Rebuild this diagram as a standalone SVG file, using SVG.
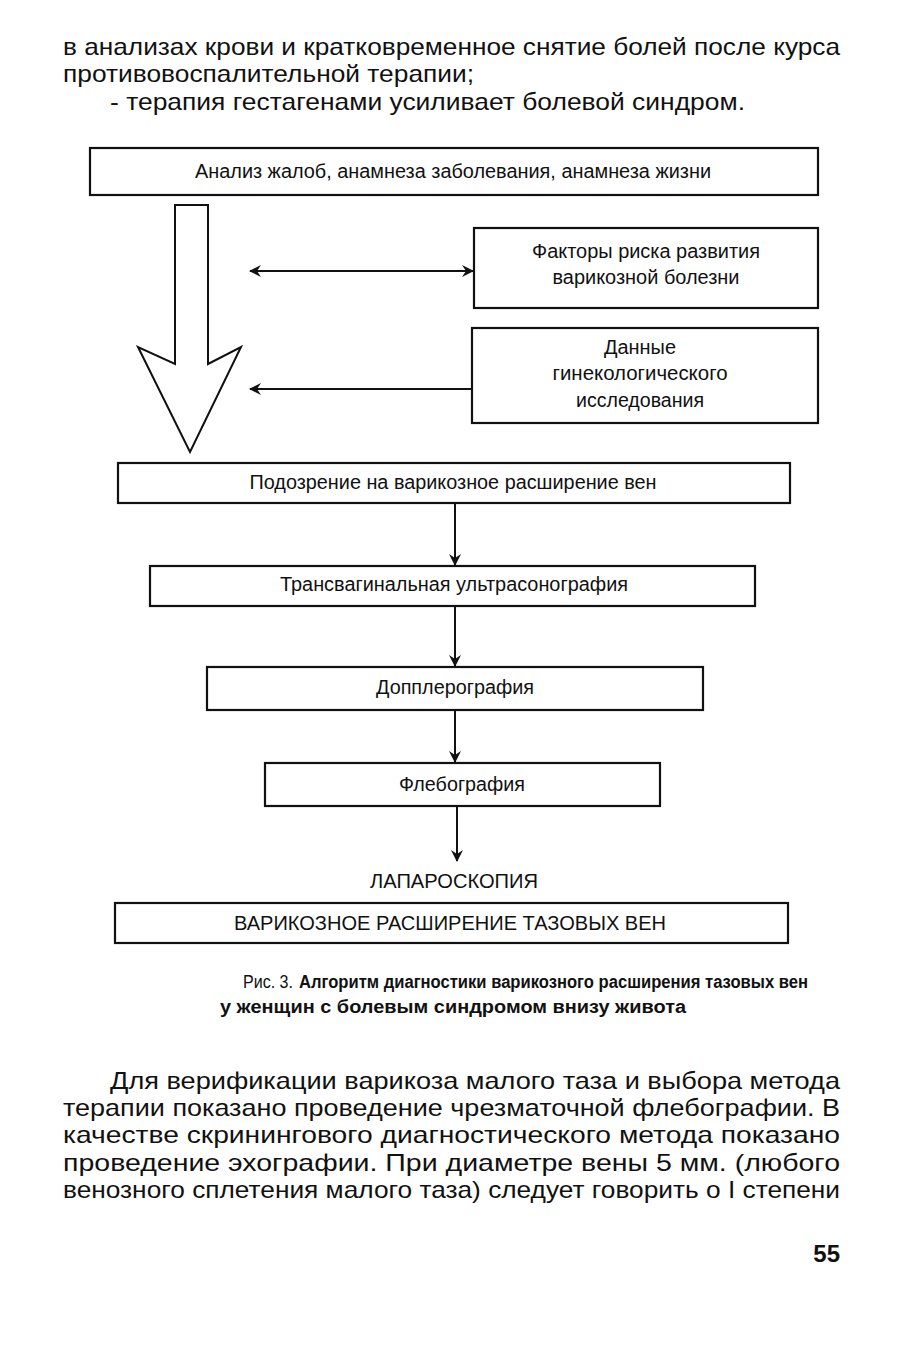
<svg xmlns="http://www.w3.org/2000/svg" width="903" height="1350" viewBox="0 0 903 1350">
<defs>
<style>
.box{fill:#fff;stroke:#111;stroke-width:2.2}
.t{font-family:"Liberation Sans","DejaVu Sans",sans-serif;font-size:20px;fill:#111;text-anchor:middle}
.c{font-family:"Liberation Sans","DejaVu Sans",sans-serif;font-size:18px;fill:#111}
.body{font-family:"Liberation Sans","DejaVu Sans",sans-serif;font-size:24px;fill:#111}
.ln{stroke:#111;stroke-width:2;fill:none}
</style>
<marker id="ah" viewBox="0 0 12 12" refX="11" refY="6" markerWidth="12" markerHeight="12" markerUnits="userSpaceOnUse" orient="auto-start-reverse">
<path d="M0,0 L12,6 L0,12 L4,6 Z" fill="#111"/>
</marker>
</defs>
<rect width="903" height="1350" fill="#fff"/>

<g id="text-top">
<text class="body" x="63" y="55" textLength="777" lengthAdjust="spacingAndGlyphs">в анализах крови и кратковременное снятие болей после курса</text>
<text class="body" x="63" y="82" textLength="411" lengthAdjust="spacingAndGlyphs">противовоспалительной терапии;</text>
<text class="body" x="110" y="110" textLength="635" lengthAdjust="spacingAndGlyphs">- терапия гестагенами усиливает болевой синдром.</text>
</g>

<g id="n-anamnesis">
<rect class="box" x="90" y="148" width="728" height="47"/>
<text class="t" x="453" y="178" textLength="516" lengthAdjust="spacingAndGlyphs">Анализ жалоб, анамнеза заболевания, анамнеза жизни</text>
</g>

<g id="n-factors">
<rect class="box" x="474" y="228" width="344" height="80"/>
<text class="t" x="646" y="258" textLength="228" lengthAdjust="spacingAndGlyphs">Факторы риска развития</text>
<text class="t" x="646" y="284" textLength="187" lengthAdjust="spacingAndGlyphs">варикозной болезни</text>
</g>

<g id="n-gyn">
<rect class="box" x="472" y="328" width="346" height="95"/>
<text class="t" x="640" y="354" textLength="72" lengthAdjust="spacingAndGlyphs">Данные</text>
<text class="t" x="640" y="380" textLength="175" lengthAdjust="spacingAndGlyphs">гинекологического</text>
<text class="t" x="640" y="407" textLength="128" lengthAdjust="spacingAndGlyphs">исследования</text>
</g>

<g id="n-suspicion">
<rect class="box" x="118" y="463" width="672" height="40"/>
<text class="t" x="453" y="489" textLength="407" lengthAdjust="spacingAndGlyphs">Подозрение на варикозное расширение вен</text>
</g>

<g id="n-tvus">
<rect class="box" x="150" y="566" width="605" height="40"/>
<text class="t" x="454" y="591" textLength="348" lengthAdjust="spacingAndGlyphs">Трансвагинальная ультрасонография</text>
</g>

<g id="n-doppler">
<rect class="box" x="207" y="667" width="496" height="43"/>
<text class="t" x="455" y="694" textLength="158" lengthAdjust="spacingAndGlyphs">Допплерография</text>
</g>

<g id="n-phlebo">
<rect class="box" x="265" y="763" width="395" height="43"/>
<text class="t" x="462" y="791" textLength="126" lengthAdjust="spacingAndGlyphs">Флебография</text>
</g>

<g id="n-lap">
<text class="t" x="454" y="888" font-size="22" textLength="168" lengthAdjust="spacingAndGlyphs">ЛАПАРОСКОПИЯ</text>
</g>

<g id="n-result">
<rect class="box" x="115" y="903" width="673" height="40"/>
<text class="t" x="450" y="930" font-size="22" textLength="432" lengthAdjust="spacingAndGlyphs">ВАРИКОЗНОЕ РАСШИРЕНИЕ ТАЗОВЫХ ВЕН</text>
</g>

<g id="connectors">
<path d="M175,205 L208,205 L208,364 L241,347 L190,452 L138,347 L175,364 Z" fill="#fff" stroke="#111" stroke-width="2" stroke-linejoin="miter"/>
<line class="ln" x1="250" y1="271" x2="473" y2="271" marker-start="url(#ah)" marker-end="url(#ah)"/>
<line class="ln" x1="471" y1="389" x2="250" y2="389" marker-end="url(#ah)"/>
<line class="ln" x1="455" y1="503" x2="455" y2="565" marker-end="url(#ah)"/>
<line class="ln" x1="455" y1="606" x2="455" y2="666" marker-end="url(#ah)"/>
<line class="ln" x1="455" y1="710" x2="455" y2="762" marker-end="url(#ah)"/>
<line class="ln" x1="457" y1="806" x2="457" y2="861" marker-end="url(#ah)"/>
</g>

<g id="caption">
<text class="c" x="243" y="988" textLength="50" lengthAdjust="spacingAndGlyphs">Рис. 3.</text>
<text class="c" x="299" y="988" font-size="16.5" font-weight="bold" textLength="509" lengthAdjust="spacingAndGlyphs">Алгоритм диагностики варикозного расширения тазовых вен</text>
<text class="c" x="453" y="1013" font-size="17" font-weight="bold" text-anchor="middle" textLength="466" lengthAdjust="spacingAndGlyphs">у женщин с болевым синдромом внизу живота</text>
</g>

<g id="text-bottom">
<text class="body" x="110" y="1089" textLength="730" lengthAdjust="spacingAndGlyphs">Для верификации варикоза малого таза и выбора метода</text>
<text class="body" x="63" y="1116" textLength="777" lengthAdjust="spacingAndGlyphs">терапии показано проведение чрезматочной флебографии. В</text>
<text class="body" x="63" y="1143" textLength="777" lengthAdjust="spacingAndGlyphs">качестве скринингового диагностического метода показано</text>
<text class="body" x="63" y="1171" textLength="777" lengthAdjust="spacingAndGlyphs">проведение эхографии. При диаметре вены 5 мм. (любого</text>
<text class="body" x="63" y="1198" textLength="777" lengthAdjust="spacingAndGlyphs">венозного сплетения малого таза) следует говорить о I степени</text>
<text class="body" x="840" y="1262" font-weight="bold" text-anchor="end">55</text>
</g>
</svg>
